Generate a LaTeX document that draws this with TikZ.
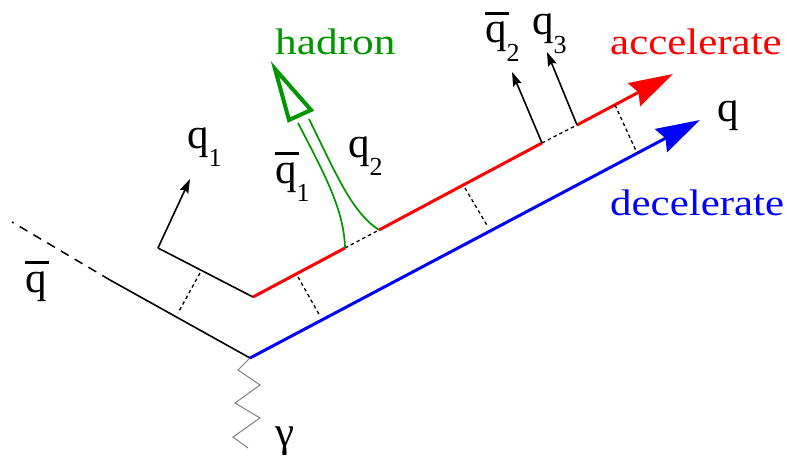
\documentclass[tikz,border=0pt]{standalone}
\usepackage{fontspec}
\usepackage{graphicx}
\setmainfont{Liberation Serif}
\usetikzlibrary{arrows.meta}
\definecolor{hgreen}{RGB}{0,150,0}
\newcommand\qb{\leavevmode\rlap{\rule[0.66em]{0.56em}{0.05em}}q}
\newcommand\sbx[1]{\raisebox{-0.42em}{\fontsize{26}{26}\selectfont #1}}
\begin{document}
\begin{tikzpicture}[x=1pt,y=-1pt,
  lbl/.style={font=\fontsize{43}{43}\selectfont, inner sep=0pt, anchor=base west},
  word/.style={font=\fontsize{37}{37}\selectfont, inner sep=0pt, anchor=base west},
  strline/.style={line width=1.6pt, black},
  dashline/.style={line width=1.3pt, black, dash pattern=on 3.5pt off 3pt},
  bigtip/.style={-{Stealth[length=44pt,width=26pt,inset=5pt]}},
  smalltip/.style={-{Stealth[length=14pt,width=9pt,inset=2pt]}},
  redline/.style={line width=3pt, red},
  blueline/.style={line width=3pt, blue},
  greenline/.style={line width=1.7pt, hgreen}]
\useasboundingbox (0,0) rectangle (787,460);
% points
\coordinate (V) at (250,358);
\coordinate (Bt) at (700,120);
\coordinate (R0) at (253,297);
\coordinate (Ra) at (345,248);
\coordinate (Rb) at (379,230);
\coordinate (Rc) at (542,143);
\coordinate (Rd) at (577,125);
\coordinate (Rt) at (673,74);
\coordinate (L1) at (110,280);
\coordinate (L0) at (12,222);
\coordinate (C1) at (158,248);
\coordinate (A1) at (190,179);
\coordinate (A2) at (512,72);
\coordinate (A3) at (547,52);
% photon
\draw[gray, line width=1pt] (V) -- (238,370) -- (260,385) -- (235,403) -- (260,418) -- (233,437) -- (248,448);
% lower-left black string
\draw[strline] (V) -- (L1);
\draw[line width=1.5pt, black, dash pattern=on 9pt off 7pt] (L1) -- (L0);
% upper-left black string and q1
\draw[strline] (R0) -- (C1);
\draw[strline, smalltip] (C1) -- (A1);
% blue quark
\draw[blueline, bigtip] (V) -- (Bt);
% red quark
\draw[redline] (R0) -- (Ra);
\draw[dashline] (Ra) -- (Rb);
\draw[redline] (Rb) -- (Rc);
\draw[dashline] (Rc) -- (Rd);
\draw[redline, bigtip] (Rd) -- (Rt);
% q2bar, q3
\draw[strline, smalltip] (Rc) -- (A2);
\draw[strline, smalltip] (Rd) -- (A3);
% string connectors
\coordinate (d1a) at (200,273); \coordinate (d1b) at (178,313);
\coordinate (d2a) at (298,277); \coordinate (d2b) at (320,316);
\coordinate (d3a) at (465,188); \coordinate (d3b) at (488,227);
\coordinate (d4a) at (615,105); \coordinate (d4b) at (637,153);
\draw[dashline] (d1a) -- (d1b);
\draw[dashline] (d2a) -- (d2b);
\draw[dashline] (d3a) -- (d3b);
\draw[dashline] (d4a) -- (d4b);
% hadron
\draw[greenline] (Ra) .. controls (344,210) and (325,175) .. (298,123);
\draw[greenline] (Rb) .. controls (352,212) and (338,178) .. (309,119);
\draw[hgreen, line width=4pt] (275,69) -- (289,120) -- (311,110) -- cycle;
% labels
\node[lbl] (qbar) at (25,292) {\qb};
\node[lbl] (q1) at (187,148) {q\sbx{1}};
\node[lbl] (qb1) at (275,183) {\qb\sbx{1}};
\node[lbl] (q2) at (348,157) {q\sbx{2}};
\node[lbl] (qb2) at (485,43) {\qb\sbx{2}};
\node[lbl] (q3) at (532,35) {q\sbx{3}};
\node[lbl] (q) at (717,121) {q};
\node[lbl] (gam) at (275,446) {γ};
\node[word, text=hgreen] (had) at (275,55) {\scalebox{1.17}[1]{hadron}};
\node[word, text=red] (acc) at (610,55) {\scalebox{1.16}[1]{accelerate}};
\node[word, text=blue] (dec) at (610,215) {\scalebox{1.16}[1]{decelerate}};
\end{tikzpicture}
\end{document}
